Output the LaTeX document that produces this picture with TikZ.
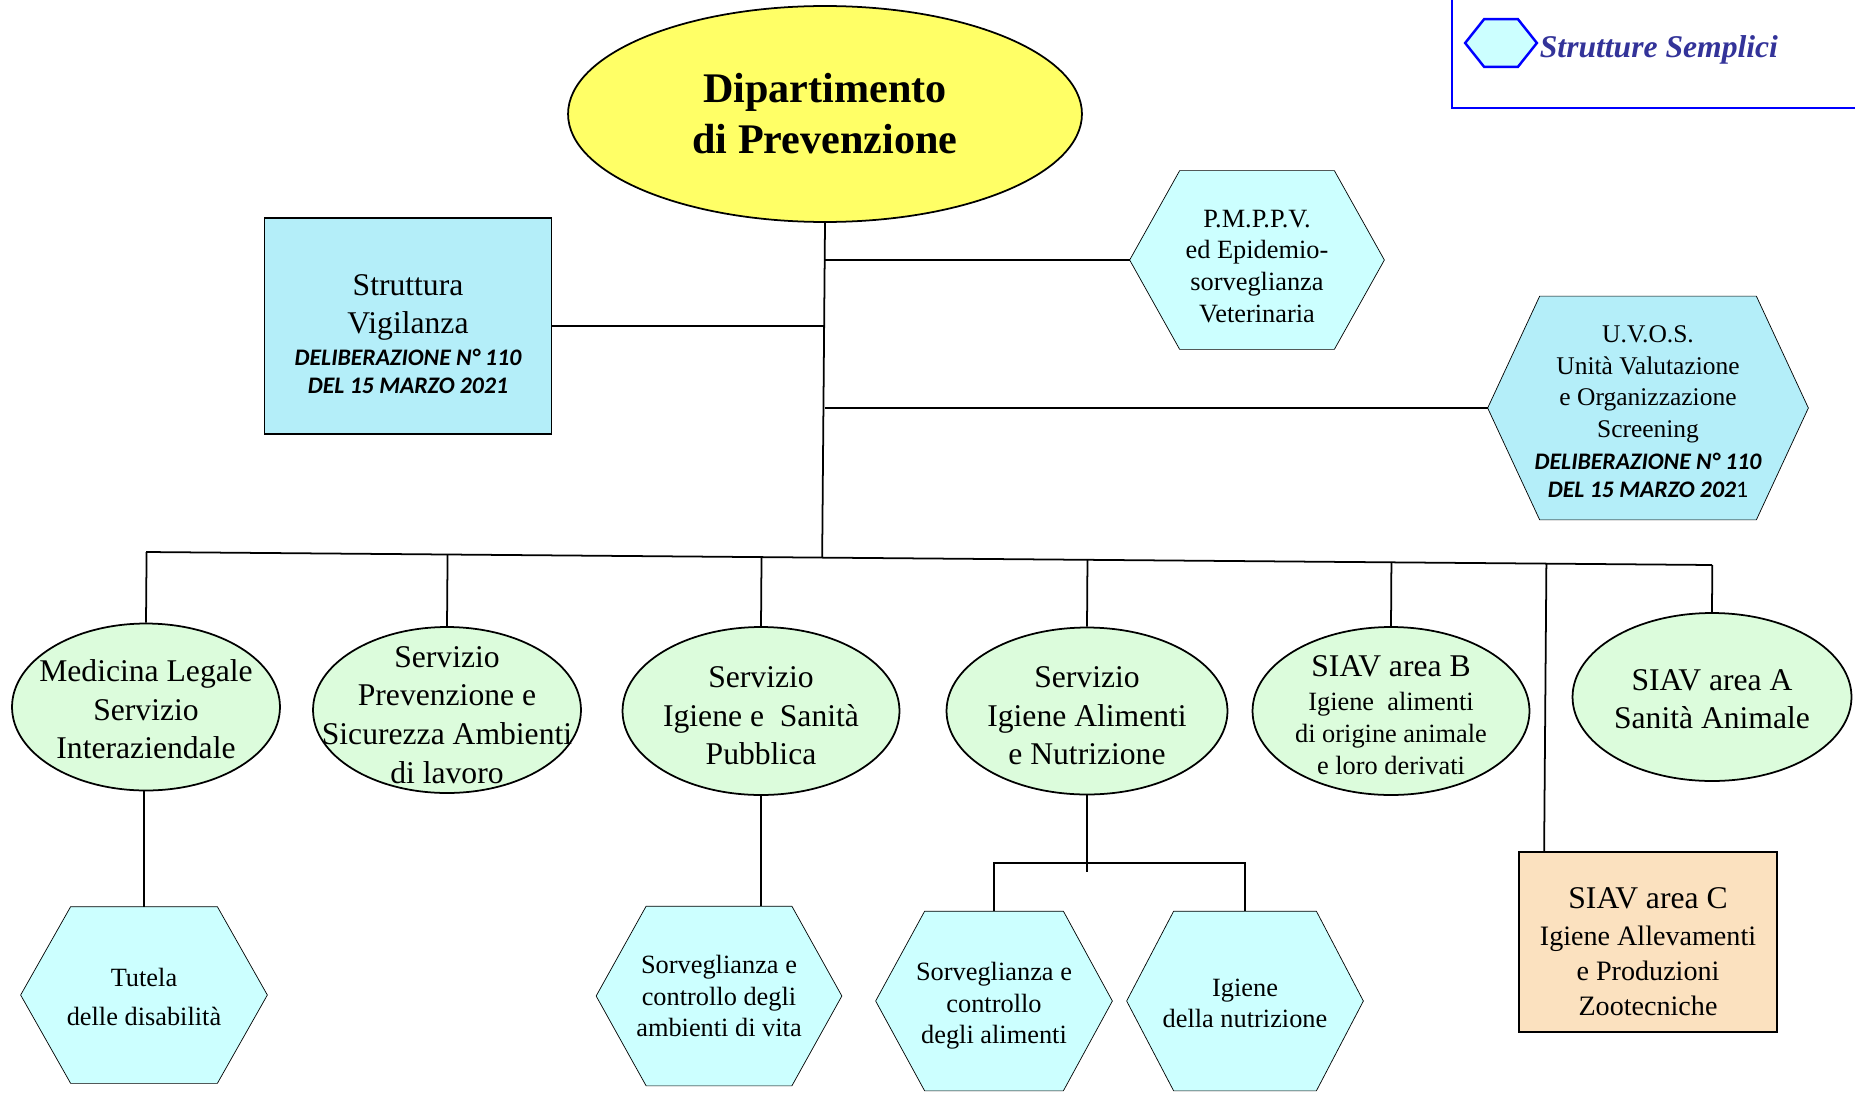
\documentclass[tikz,border=0pt]{standalone}
\usepackage{fontspec}
\setmainfont{Liberation Serif}
\newfontfamily\calib{Carlito}
\usepackage{xcolor}
\usepackage{tikz}
\usetikzlibrary{shapes.geometric,positioning,calc,backgrounds}
\definecolor{dipyellow}{HTML}{FFFF66}
\definecolor{srvgreen}{HTML}{DCFCDC}
\definecolor{sscyan}{HTML}{CCFFFF}
\definecolor{vigcyan}{HTML}{B4EEF9}
\definecolor{siavpeach}{HTML}{FBE1BF}
\definecolor{legtext}{HTML}{333399}
\definecolor{legblue}{HTML}{0000FF}
\newcommand{\delib}{\calib\bfseries\itshape\fontsize{13.5}{16}\selectfont}
\newcommand{\topgap}[1]{\rule{0pt}{#1}}

\begin{document}
\begin{tikzpicture}[x=0.02cm, y=-0.02cm, line width=1pt, ell/.style={ellipse, draw, fill=srvgreen, align=center, inner xsep=-30pt, inner ysep=-25pt, font=\fontsize{18}{22}\selectfont}, rbox/.style={rectangle, draw, align=center, inner sep=0pt, font=\fontsize{18}{22}\selectfont}, hexbox/.style={rectangle, align=center, inner sep=0pt, font=\fontsize{15}{18}\selectfont}, lnk/.style={line width=1pt}]
\useasboundingbox (0,0) rectangle (1855,1095);
\node[ellipse, draw, fill=dipyellow, minimum width=10.28cm, minimum height=4.32cm, align=center, font=\bfseries\fontsize{24}{29}\selectfont] (dip) at (825,114) {Dipartimento\\di Prevenzione};
\node[rbox, fill=vigcyan, minimum width=5.74cm, minimum height=4.32cm] (vig) at (408,326) {\topgap{21pt}Struttura\\Vigilanza\\[-4pt]{\delib DELIBERAZIONE N° 110}\\[-6pt]{\delib DEL 15 MARZO 2021}};
\node[hexbox, minimum width=5.06cm, minimum height=3.54cm] (pmp) at (1257,260) {\topgap{17pt}P.M.P.P.V.\\ed Epidemio-\\sorveglianza\\Veterinaria};
\node[hexbox, minimum width=6.38cm, minimum height=4.44cm, font=\fontsize{14.5}{18}\selectfont] (uvos) at (1648,408) {\topgap{13.6pt}U.V.O.S.\\Unità Valutazione\\e Organizzazione\\Screening\\{\delib DELIBERAZIONE N° 110}\\[-2pt]{\delib DEL 15 MARZO 202}{\calib\fontsize{13.5}{16}\selectfont 1}};
\node[ell, minimum width=5.36cm, minimum height=3.34cm] (medl) at (146,707) {\topgap{15.3pt}Medicina Legale\\Servizio\\Interaziendale};
\node[ell, minimum width=5.36cm, minimum height=3.32cm] (spsal) at (447,710) {\topgap{17.3pt}Servizio\\Prevenzione e\\Sicurezza Ambienti\\di lavoro};
\node[ell, minimum width=5.54cm, minimum height=3.36cm] (sisp) at (761,711) {\topgap{17.3pt}Servizio\\Igiene e~ Sanità\\Pubblica};
\node[ell, minimum width=5.62cm, minimum height=3.34cm] (sian) at (1087,711) {\topgap{17.3pt}Servizio\\Igiene Alimenti\\e Nutrizione};
\node[ell, minimum width=5.54cm, minimum height=3.36cm, font=\fontsize{15}{18}\selectfont] (siavb) at (1391,711) {{\fontsize{18}{22}\selectfont\topgap{16.5pt}SIAV area B}\\[1.5pt]Igiene~ alimenti\\di origine animale\\e loro derivati};
\node[ell, minimum width=5.58cm, minimum height=3.36cm] (siava) at (1712,697) {\topgap{14.5pt}SIAV area A\\Sanità Animale};
\node[rbox, fill=siavpeach, minimum width=5.16cm, minimum height=3.6cm, font=\fontsize{16}{20}\selectfont] (siavc) at (1648,942) {{\fontsize{18}{22}\selectfont\topgap{23pt}SIAV area C}\\[1pt]Igiene Allevamenti\\e Produzioni\\Zootecniche};
\node[hexbox, minimum width=4.9cm, minimum height=3.5cm, font=\fontsize{15}{22}\selectfont] (tut) at (144,995) {\topgap{12.5pt}Tutela\\delle disabilità};
\node[hexbox, minimum width=4.88cm, minimum height=3.56cm] (amb) at (719,996) {Sorveglianza e\\controllo degli\\ambienti di vita};
\node[hexbox, minimum width=4.7cm, minimum height=3.56cm] (ali) at (994,1001) {\topgap{16pt}Sorveglianza e\\controllo\\degli alimenti};
\node[hexbox, minimum width=4.7cm, minimum height=3.56cm] (nut) at (1245,1001) {\topgap{12.5pt}Igiene\\della nutrizione};
\node[hexbox, minimum width=1.4cm, minimum height=0.92cm] (leghex) at (1501,43) {};
\node[anchor=base west, inner sep=0pt, text=legtext, font=\bfseries\itshape\fontsize{18}{22}\selectfont] (legtxt) at (1539,58) {Strutture Semplici};
\coordinate (busL) at (146,552);
\coordinate (busR) at (1712,565);
\coordinate (cdrop) at ($(siavc.north west)!0.1!(siavc.north east)$);
\draw[lnk] (dip.south) -- ($(busL)!(dip.south)!(busR)$);
\draw[lnk] (vig.east) -- (vig.east -| dip.south);
\draw[lnk] (pmp.west) -- (pmp.west -| dip.south);
\draw[lnk] (uvos.west) -- (uvos.west -| dip.south);
\draw[lnk] (busL) -- (busR);
\foreach \n in {medl,spsal,sisp,sian,siavb,siava,cdrop}
  \draw[lnk] (\n.north) -- ($(busL)!(\n.north)!(busR)$);
\draw[lnk] (tut.north) -- (tut.north |- medl.south);
\draw[lnk] (sisp.south) -- (sisp.south |- amb.north);
\draw[lnk] (sian.south) -- ++(0,77);
\draw[lnk] (ali.north) -- ++(0,-48) -| (nut.north);
\draw[legblue, line width=1.6pt] (1452,0) -- (1452,108) -- (1855,108);
\begin{scope}[on background layer]
\fill[white] (0,0) rectangle (1855,1095);
\foreach \n/\d/\c in {pmp/50/sscyan, uvos/52/vigcyan, tut/50/sscyan, amb/50/sscyan, ali/49/sscyan, nut/47/sscyan}
  \draw[fill=\c] (\n.west) -- ($(\n.north west)+(\d,0)$) -- ($(\n.north east)+(-\d,0)$) -- (\n.east) -- ($(\n.south east)+(-\d,0)$) -- ($(\n.south west)+(\d,0)$) -- cycle;
\draw[legblue, line width=1.4pt, fill=sscyan] (leghex.west) -- ($(leghex.north west)+(19,0)$) -- ($(leghex.north east)+(-19,0)$) -- (leghex.east) -- ($(leghex.south east)+(-19,0)$) -- ($(leghex.south west)+(19,0)$) -- cycle;
\end{scope}
\end{tikzpicture}
\end{document}
